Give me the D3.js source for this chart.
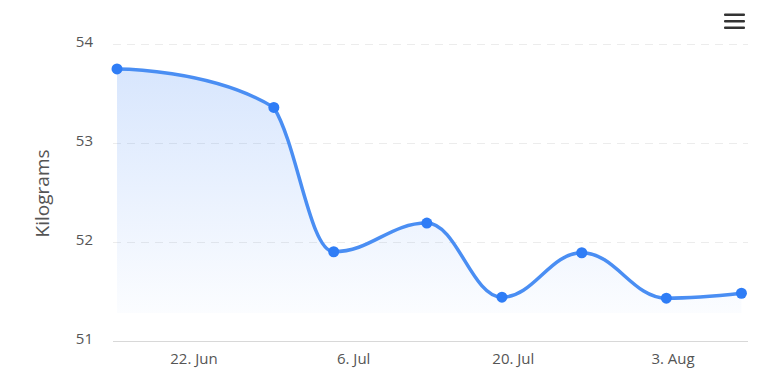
<!DOCTYPE html>
<html lang="en">
<head>
<meta charset="UTF-8">
<title>Weight</title>
<script src="https://d3js.org/d3.v7.min.js"></script>
<style>
  html, body { margin: 0; padding: 0; background: #fff; }
  svg { display: block; font-family: "Open Sans", Lato, sans-serif; }
</style>
</head>
<body>
<svg width="768" height="390"></svg>
<script>
    // data
    const dates = ['2023-06-15T06:00', '2023-06-29', '2023-07-04T06:00', '2023-07-12T10:00',
                   '2023-07-19', '2023-07-26', '2023-08-02T10:00', '2023-08-09']
    const weights = [53.75, 53.36, 51.90, 52.19, 51.44, 51.89, 51.43, 51.48]
    const yTicks = [51, 52, 53, 54]
    const xTicks = ['2023-06-22', '2023-07-06', '2023-07-20', '2023-08-03']
    const xTickLabels = ['22. Jun', '6. Jul', '20. Jul', '3. Aug']
    const areaBase = 51.28

    const parse = s => new Date(s + (s.length > 10 ? ':00Z' : 'T00:00Z'))
    const data = dates.map((d, i) => ({ date: parse(d), value: weights[i] }))

    const svg = d3.select('svg')
    const plot = { left: 113, right: 748, top: 44, bottom: 341 }

    const x = d3.scaleUtc()
        .domain([parse(xTicks[0]), parse(xTicks[3])])
        .range([194, 673])
    const y = d3.scaleLinear()
        .domain([51, 54])
        .range([340.7, 44.2])

    // gradient for the area
    const grad = svg.append('defs').append('linearGradient')
        .attr('id', 'fillGrad')
        .attr('x1', 0).attr('y1', 0).attr('x2', 0).attr('y2', 1)
    grad.append('stop').attr('offset', '0%').attr('stop-color', '#3b82f6').attr('stop-opacity', 0.2)
    grad.append('stop').attr('offset', '100%').attr('stop-color', '#3b82f6').attr('stop-opacity', 0.02)

    // grid lines
    svg.append('g')
        .selectAll('line')
        .data(yTicks.slice(1))
        .enter()
        .append('line')
        .attr('x1', plot.left)
        .attr('x2', plot.right)
        .attr('y1', d => Math.round(y(d)) + 0.5)
        .attr('y2', d => Math.round(y(d)) + 0.5)
        .attr('stroke', '#ececec')
        .attr('stroke-dasharray', '8,6')

    // y labels
    svg.append('g')
        .selectAll('text')
        .data(yTicks)
        .enter()
        .append('text')
        .attr('x', 93)
        .attr('y', d => y(d) + 3)
        .attr('text-anchor', 'end')
        .attr('font-size', 15)
        .attr('fill', '#555')
        .text(d => d)

    // y title
    svg.append('text')
        .attr('transform', 'translate(49,' + ((y(54) + y(51)) / 2 + 1) + ') rotate(-90)')
        .attr('text-anchor', 'middle')
        .attr('font-size', 19)
        .attr('fill', '#555')
        .text('Kilograms')

    // spline like highcharts
    function splinePath(pts) {
        const smoothing = 1.5, denom = smoothing + 1
        const p = d3.path()
        pts.forEach((pt, i) => {
            if (i === 0) { p.moveTo(pt.x, pt.y); return }
            const last = pts[i - 1], next = pts[i + 1]
            let lcx = pt.x, lcy = pt.y
            if (next) {
                lcx = (smoothing * pt.x + last.x) / denom
                lcy = (smoothing * pt.y + last.y) / denom
                let rcx = (smoothing * pt.x + next.x) / denom
                let rcy = (smoothing * pt.y + next.y) / denom
                const corr = ((rcy - lcy) * (rcx - pt.x)) / (rcx - lcx) + pt.y - rcy
                lcy += corr
                rcy += corr
                if (lcy > last.y && lcy > pt.y) { lcy = Math.max(last.y, pt.y); rcy = 2 * pt.y - lcy }
                else if (lcy < last.y && lcy < pt.y) { lcy = Math.min(last.y, pt.y); rcy = 2 * pt.y - lcy }
                if (rcy > next.y && rcy > pt.y) { rcy = Math.max(next.y, pt.y); lcy = 2 * pt.y - rcy }
                else if (rcy < next.y && rcy < pt.y) { rcy = Math.min(next.y, pt.y); lcy = 2 * pt.y - rcy }
                pt.rcx = rcx
                pt.rcy = rcy
            }
            p.bezierCurveTo(last.rcx !== undefined ? last.rcx : last.x,
                            last.rcy !== undefined ? last.rcy : last.y,
                            lcx, lcy, pt.x, pt.y)
        })
        return p
    }

    const pts = data.map(d => ({ x: x(d.date), y: y(d.value) }))
    const linePath = splinePath(pts).toString()
    const base = y(areaBase)
    const areaPath = linePath + 'L' + pts[pts.length - 1].x + ',' + base + 'L' + pts[0].x + ',' + base + 'Z'

    svg.append('path')
        .attr('d', areaPath)
        .attr('fill', 'url(#fillGrad)')

    // x axis line
    svg.append('line')
        .attr('x1', plot.left)
        .attr('x2', plot.right)
        .attr('y1', plot.bottom + 0.5)
        .attr('y2', plot.bottom + 0.5)
        .attr('stroke', '#d8d8d8')
        .attr('stroke-width', 1)

    // x labels
    svg.append('g')
        .selectAll('text')
        .data(xTicks)
        .enter()
        .append('text')
        .attr('x', d => x(parse(d)))
        .attr('y', 364)
        .attr('text-anchor', 'middle')
        .attr('font-size', 15)
        .attr('fill', '#555')
        .text((d, i) => xTickLabels[i])

    svg.append('path')
        .attr('d', linePath)
        .attr('fill', 'none')
        .attr('stroke', '#4a8ef3')
        .attr('stroke-width', 3.5)
        .attr('stroke-linecap', 'round')

    svg.append('g')
        .selectAll('circle')
        .data(data)
        .enter()
        .append('circle')
        .attr('cx', d => x(d.date))
        .attr('cy', d => y(d.value))
        .attr('r', 5.5)
        .attr('fill', '#2f7df6')

    // menu button
    svg.append('g')
        .selectAll('rect')
        .data([0, 1, 2])
        .enter()
        .append('rect')
        .attr('x', 724)
        .attr('y', d => 13.5 + d * 6.5)
        .attr('width', 21)
        .attr('height', 2.5)
        .attr('rx', 1)
        .attr('fill', '#333')
</script>
</body>
</html>
